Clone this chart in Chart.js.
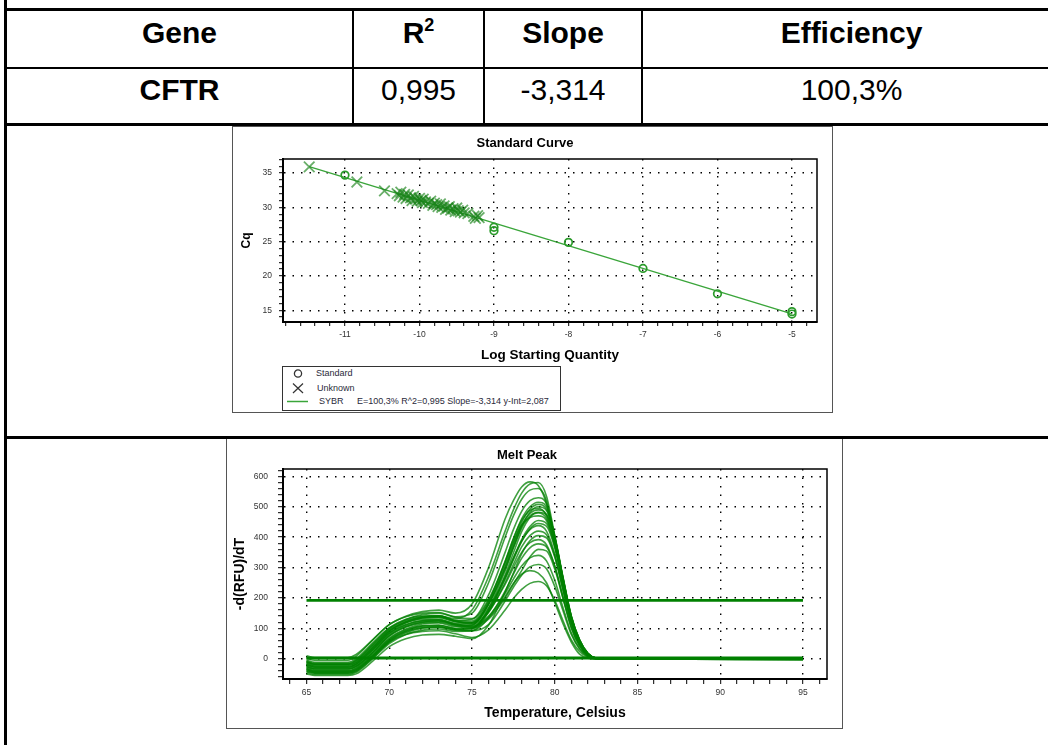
<!DOCTYPE html>
<html>
<head>
<meta charset="utf-8">
<script src="https://cdn.jsdelivr.net/npm/chart.js@4.4.1/dist/chart.umd.min.js"></script>
<style>
  body { margin: 0; background: #fff; }
  #page { position: relative; width: 1048px; height: 745px; overflow: hidden; font-family: 'Liberation Sans', Arial, sans-serif; }
  .ln { position: absolute; background: #000; z-index: 5; }
  .cell { position: absolute; text-align: center; font-size: 30px; line-height: 34px; color: #000; white-space: nowrap; }
  .b { font-weight: bold; }
  .sup { font-size: 18px; position: relative; top: -12px; }
  .box { position: absolute; border: 1px solid #555; box-sizing: border-box; background: #fff; }
  .box canvas { position: absolute; left: 0; top: 0; }
  #legend { position: absolute; left: 282px; top: 366px; width: 279px; height: 45px; box-sizing: border-box; border: 1px solid #333; background: #fff; z-index: 4; }
  #legend span { position: absolute; font-size: 9px; line-height: 10px; color: #2a2a3a; white-space: nowrap; }
</style>
</head>
<body>
<div id="page">
  <!-- table rules -->
  <div class="ln" style="left:4px; top:0; width:3px; height:745px"></div>
  <div class="ln" style="left:4px; top:8px; width:1044px; height:3px"></div>
  <div class="ln" style="left:4px; top:67px; width:1044px; height:2px"></div>
  <div class="ln" style="left:4px; top:123px; width:1044px; height:3px"></div>
  <div class="ln" style="left:4px; top:436px; width:1044px; height:3px"></div>
  <div class="ln" style="left:352px; top:11px; width:2px; height:112px"></div>
  <div class="ln" style="left:483px; top:11px; width:2px; height:112px"></div>
  <div class="ln" style="left:641px; top:11px; width:2px; height:112px"></div>

  <!-- table text -->
  <div class="cell b" style="left:7px; width:345px; top:16px">Gene</div>
  <div class="cell b" style="left:354px; width:129px; top:16px">R<span class="sup">2</span></div>
  <div class="cell b" style="left:485px; width:156px; top:16px">Slope</div>
  <div class="cell b" style="left:643px; width:417px; top:16px">Efficiency</div>
  <div class="cell b" style="left:7px; width:345px; top:73px">CFTR</div>
  <div class="cell" style="left:354px; width:129px; top:73px">0,995</div>
  <div class="cell" style="left:485px; width:156px; top:73px">-3,314</div>
  <div class="cell" style="left:643px; width:417px; top:73px">100,3%</div>

  <!-- standard curve -->
  <div class="box" style="left:232px; top:126px; width:601px; height:287px">
    <canvas id="stdChart" width="599" height="285"></canvas>
  </div>
  <div id="legend">
    <svg width="277" height="43" style="position:absolute;left:0;top:0">
      <circle cx="15" cy="6.5" r="3.6" fill="none" stroke="#333" stroke-width="1.3"/>
      <line x1="10" y1="16.5" x2="20" y2="26" stroke="#333" stroke-width="1.2"/>
      <line x1="20" y1="16.5" x2="10" y2="26" stroke="#333" stroke-width="1.2"/>
      <line x1="4" y1="34.5" x2="25" y2="34.5" stroke="#3aa53a" stroke-width="1.5"/>
    </svg>
    <span style="left:33px; top:1px">Standard</span>
    <span style="left:34px; top:16px">Unknown</span>
    <span style="left:36px; top:29px">SYBR</span>
    <span style="left:74px; top:29px">E=100,3% R^2=0,995 Slope=-3,314 y-Int=2,087</span>
  </div>

  <!-- melt peak -->
  <div class="box" style="left:226px; top:437px; width:617px; height:292px">
    <canvas id="meltChart" width="615" height="290"></canvas>
  </div>
</div>

<script>
// ---- standard curve data ----
const stdLogQty = [-11, -9, -9, -8, -7, -6, -5, -5];
const stdCq = [34.7, 26.6, 27.1, 24.9, 21.1, 17.4, 14.45, 14.8];
const unkLogQty = [-11.48, -10.84, -10.47, -10.30, -10.27, -10.25, -10.22, -10.20, -10.18, -10.15,
  -10.12, -10.10, -10.08, -10.05, -10.03, -10.00, -9.98, -9.96, -9.95, -9.92,
  -9.88, -9.85, -9.82, -9.80, -9.77, -9.75, -9.72, -9.70, -9.67, -9.65,
  -9.62, -9.60, -9.58, -9.55, -9.52, -9.50, -9.48, -9.45, -9.42, -9.40,
  -9.35, -9.27, -9.25, -9.22, -9.20];
const unkCq = [35.9, 33.7, 32.4, 32.0, 31.7, 32.2, 31.5, 31.9, 31.3, 31.8,
  31.4, 31.0, 31.6, 31.2, 30.9, 31.3, 31.0, 30.7, 31.2, 30.8,
  30.6, 30.9, 30.3, 30.6, 30.4, 30.1, 30.5, 30.0, 30.2, 29.7,
  29.9, 30.1, 29.6, 29.8, 29.4, 29.9, 29.5, 29.3, 29.6, 29.2,
  29.1, 28.7, 28.4, 28.8, 28.5];
const fitLogQty = [-11.48, -5];
const fitCq = [35.95, 14.48];
const stdXTicks = [-11, -10, -9, -8, -7, -6, -5];
const stdYTicks = [15, 20, 25, 30, 35];

// ---- melt peak data ----
const meltTemps = [65, 65.5, 67.5, 68, 69, 70, 71, 72, 73, 74, 75, 76, 77, 77.5, 78, 78.5, 79, 79.5, 80, 80.5, 81, 81.5, 82, 82.5, 83, 95];
const meltCurves = [
  [0, -5, -5, 8, 62, 112, 140, 155, 160, 150, 180, 300, 460, 520, 565, 582, 570, 510, 385, 245, 125, 50, 12, 1, 0, -2],
  [-20, -30, -30, -18, 30, 85, 118, 135, 140, 132, 160, 270, 420, 490, 545, 575, 580, 535, 405, 262, 136, 58, 16, 1, 0, 0],
  [-10, -18, -18, -6, 45, 98, 128, 145, 150, 138, 150, 250, 400, 470, 525, 555, 560, 520, 395, 255, 132, 55, 15, 1, 0, -3],
  [-15, -25, -25, -15, 35, 90, 122, 138, 142, 126, 130, 210, 350, 425, 485, 520, 530, 510, 400, 262, 136, 58, 16, 1, 0, 0],
  [-30, -40, -40, -30, 15, 68, 98, 114, 118, 106, 110, 185, 320, 395, 460, 500, 515, 500, 405, 268, 140, 62, 18, 2, 0, 0],
  [-25, -35, -35, -25, 20, 75, 105, 120, 124, 112, 112, 180, 305, 380, 448, 492, 508, 492, 398, 262, 137, 60, 17, 1, 0, -2],
  [-40, -48, -48, -40, 5, 55, 85, 100, 104, 95, 98, 165, 290, 365, 435, 482, 500, 488, 400, 266, 140, 62, 18, 2, 0, 0],
  [10, 4, 4, 14, 62, 112, 138, 150, 152, 136, 132, 195, 320, 395, 455, 488, 495, 470, 375, 242, 122, 50, 12, 1, 0, 0],
  [-15, -22, -22, -12, 38, 92, 120, 134, 136, 122, 120, 180, 300, 372, 438, 478, 490, 475, 390, 258, 134, 58, 16, 1, 0, -3],
  [-45, -52, -52, -45, 0, 50, 80, 94, 98, 90, 92, 155, 275, 348, 418, 465, 482, 474, 395, 265, 140, 62, 18, 2, 0, 0],
  [-20, -28, -28, -20, 28, 82, 112, 126, 128, 116, 118, 178, 295, 365, 430, 470, 480, 462, 378, 248, 128, 54, 14, 1, 0, 0],
  [-8, -15, -15, -4, 48, 100, 126, 138, 140, 126, 124, 190, 315, 385, 440, 465, 470, 455, 375, 250, 130, 55, 15, 1, 0, 0],
  [-35, -42, -42, -35, 10, 62, 92, 108, 110, 100, 102, 160, 265, 330, 392, 435, 455, 445, 370, 248, 130, 56, 16, 1, 0, 0],
  [-35, -45, -45, -36, 8, 60, 90, 104, 106, 98, 100, 158, 262, 325, 385, 428, 445, 436, 365, 245, 128, 55, 16, 1, 0, -2],
  [-10, -18, -18, -8, 42, 95, 122, 135, 136, 122, 118, 168, 270, 332, 388, 425, 438, 420, 345, 228, 118, 48, 12, 1, 0, -2],
  [-25, -32, -32, -24, 22, 78, 108, 122, 124, 112, 108, 152, 250, 310, 368, 405, 420, 408, 338, 228, 120, 52, 14, 1, 0, 0],
  [-50, -55, -55, -50, -8, 40, 66, 78, 80, 74, 66, 110, 220, 282, 345, 388, 405, 398, 335, 228, 122, 54, 15, 1, 0, 0],
  [-5, -12, -12, 0, 52, 102, 130, 140, 140, 124, 115, 155, 245, 300, 350, 382, 392, 375, 305, 200, 102, 42, 10, 0, 0, 0],
  [-38, -45, -45, -38, 6, 58, 88, 102, 104, 94, 92, 135, 222, 278, 330, 365, 378, 368, 305, 205, 108, 46, 12, 1, 0, -3],
  [-28, -34, -34, -26, 20, 74, 104, 118, 120, 108, 100, 130, 200, 245, 290, 335, 360, 355, 295, 198, 102, 42, 10, 0, 0, 0],
  [-20, -26, -26, -18, 30, 84, 112, 125, 126, 112, 104, 140, 215, 262, 305, 332, 340, 322, 258, 168, 85, 34, 8, 0, 0, 0],
  [-32, -40, -40, -32, 12, 65, 95, 108, 110, 98, 92, 112, 190, 235, 275, 302, 310, 296, 238, 158, 80, 32, 7, 0, 0, 0],
  [-12, -20, -20, -12, 36, 90, 118, 130, 130, 115, 106, 135, 205, 248, 278, 290, 282, 250, 185, 115, 55, 15, 2, 0, 0, 0],
  [-42, -48, -48, -42, 2, 55, 80, 90, 92, 82, 70, 95, 160, 198, 228, 248, 254, 240, 192, 125, 62, 24, 5, 0, 0, 0]
];
const meltFlatTemps = [65, 95];
const meltThreshold = [192, 192];
const meltBaseA = [4, 4];
const meltBaseB = [0, 0];
const meltXTicks = [65, 70, 75, 80, 85, 90, 95];
const meltYTicks = [0, 100, 200, 300, 400, 500, 600];

const FONT = "'Liberation Sans', Arial, sans-serif";
const pts = (xs, ys) => xs.map((x, i) => ({x: x, y: ys[i]}));

function stepList(from, to, step) {
  const out = [];
  const n = Math.round((to - from) / step);
  for (let i = 0; i <= n; i++) out.push(+(from + i * step).toFixed(4));
  return out;
}

// axis with minor tick marks, dotted grid only on labelled ticks
function axis(o) {
  const isMajor = v => o.majors.some(m => Math.abs(m - v) < 1e-6);
  return {
    type: 'linear',
    min: o.min,
    max: o.max,
    afterBuildTicks: a => { a.ticks = o.minor.map(v => ({value: v})); },
    afterFit: a => { if (o.horizontal) a.height = o.size; else a.width = o.size; },
    ticks: {
      autoSkip: false, maxRotation: 0, padding: o.pad, color: '#333',
      font: {family: FONT, size: 8.5},
      callback: v => isMajor(v) ? String(Math.round(v)) : ''
    },
    grid: {
      color: c => (c.tick && isMajor(c.tick.value)) ? '#000' : 'rgba(0,0,0,0)',
      lineWidth: 1.4,
      tickColor: '#000',
      tickLength: o.tick,
      tickWidth: 1
    },
    border: {color: '#000', width: 2, dash: [1.5, 7]},
    title: {
      display: true, text: o.title, color: '#000',
      font: {family: FONT, size: o.titleSize, weight: 'bold'},
      padding: o.titlePad
    }
  };
}

const frame = {
  id: 'frame',
  afterDatasetsDraw(chart) {
    const {ctx, chartArea: a} = chart;
    ctx.save();
    ctx.strokeStyle = '#000';
    ctx.lineWidth = 1.5;
    ctx.strokeRect(a.left, a.top, a.right - a.left, a.bottom - a.top);
    ctx.restore();
  }
};

new Chart(document.getElementById('stdChart'), {
  type: 'scatter',
  data: {
    datasets: [
      {label: 'Standard', data: pts(stdLogQty, stdCq), pointStyle: 'circle', pointRadius: 3.8,
       borderWidth: 1.7, borderColor: '#2b9b2b', backgroundColor: 'rgba(0,0,0,0)'},
      {label: 'Unknown', data: pts(unkLogQty, unkCq), pointStyle: 'crossRot', pointRadius: 7.5,
       borderWidth: 1.8, borderColor: 'rgba(25,130,25,0.65)'},
      {label: 'SYBR', data: pts(fitLogQty, fitCq), showLine: true, pointRadius: 0,
       borderColor: '#3aa53a', borderWidth: 1.4}
    ]
  },
  options: {
    responsive: false,
    animation: false,
    layout: {padding: {left: 0, right: 15, top: 0, bottom: 0}},
    plugins: {
      legend: {display: false},
      tooltip: {enabled: false},
      title: {display: true, text: 'Standard Curve', color: '#000',
              font: {family: FONT, size: 13, weight: 'bold'}, padding: {top: 8.2, bottom: 8.2}}
    },
    scales: {
      x: axis({min: -11.832, max: -4.664, minor: stepList(-11.8, -4.8, 0.2), majors: stdXTicks,
               horizontal: true, size: 90, pad: 4, tick: 4, title: 'Log Starting Quantity',
               titleSize: 13.5, titlePad: {top: 0, bottom: 48.9}}),
      y: axis({min: 13.29, max: 37.05, minor: stepList(14, 37, 1), majors: stdYTicks,
               size: 50, pad: 7, tick: 4, title: 'Cq', titleSize: 12, titlePad: {top: 6.5, bottom: 0}})
    }
  },
  plugins: [frame]
});

const meltSets = meltCurves.map(c => ({
  data: pts(meltTemps, c), borderColor: 'rgba(0,128,0,0.75)', borderWidth: 1.6,
  pointRadius: 0, tension: 0.4, cubicInterpolationMode: 'monotone', fill: false
}));
meltSets.push({data: pts(meltFlatTemps, meltThreshold), borderColor: 'rgb(0,128,0)', borderWidth: 2.6, pointRadius: 0});
meltSets.push({data: pts(meltFlatTemps, meltBaseA), borderColor: 'rgb(0,128,0)', borderWidth: 1.8, pointRadius: 0});
meltSets.push({data: pts(meltFlatTemps, meltBaseB), borderColor: 'rgb(0,128,0)', borderWidth: 1.8, pointRadius: 0});

new Chart(document.getElementById('meltChart'), {
  type: 'line',
  data: {datasets: meltSets},
  options: {
    responsive: false,
    animation: false,
    layout: {padding: {left: 0, right: 15, top: 0, bottom: 0}},
    plugins: {
      legend: {display: false},
      tooltip: {enabled: false},
      title: {display: true, text: 'Melt Peak', color: '#000',
              font: {family: FONT, size: 13, weight: 'bold'}, padding: {top: 9.2, bottom: 6.2}}
    },
    scales: {
      x: axis({min: 63.58, max: 96.45, minor: stepList(64, 96, 1), majors: meltXTicks,
               horizontal: true, size: 49, pad: 4, tick: 5, title: 'Temperature, Celsius',
               titleSize: 14, titlePad: {top: 0, bottom: 6.3}}),
      y: axis({min: -66.8, max: 624.4, minor: stepList(-60, 620, 20), majors: meltYTicks,
               size: 56, pad: 10, tick: 5, title: '-d(RFU)/dT', titleSize: 14, titlePad: {top: 4.6, bottom: 0}})
    }
  },
  plugins: [frame]
});
</script>
</body>
</html>
